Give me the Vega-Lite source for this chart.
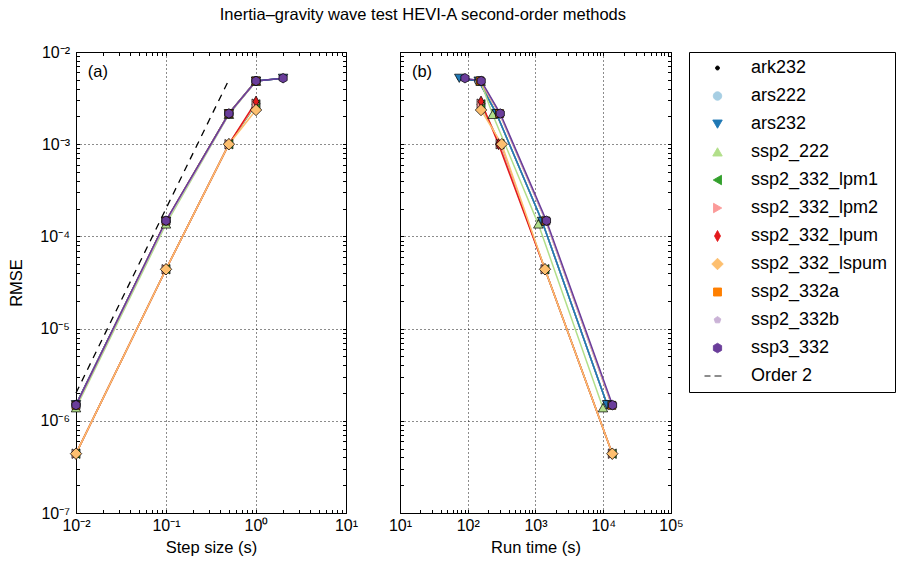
{
  "$schema": "https://vega.github.io/schema/vega-lite/v6.json",
  "padding": {"left": 8, "top": 7, "right": 0, "bottom": 5},
  "title": {"text": "Inertia–gravity wave test HEVI-A second-order methods", "font": "Liberation Sans", "fontSize": 16.5, "fontWeight": "normal", "color": "black", "anchor": "middle", "offset": 20, "dx": -29},
  "datasets": {
    "runs": [
      {"method": "ark232", "dt": 2, "rmse": 0.0052, "runtime": 75},
      {"method": "ark232", "dt": 1, "rmse": 0.00485, "runtime": 145},
      {"method": "ark232", "dt": 0.5, "rmse": 0.00215, "runtime": 265},
      {"method": "ark232", "dt": 0.1, "rmse": 0.000146, "runtime": 1250},
      {"method": "ark232", "dt": 0.01, "rmse": 0.0000015, "runtime": 11400},
      {"method": "ars222", "dt": 1, "rmse": 0.00485, "runtime": 145},
      {"method": "ars222", "dt": 0.5, "rmse": 0.00215, "runtime": 265},
      {"method": "ars222", "dt": 0.1, "rmse": 0.000146, "runtime": 1250},
      {"method": "ars222", "dt": 0.01, "rmse": 0.0000015, "runtime": 11400},
      {"method": "ars232", "dt": 2, "rmse": 0.0052, "runtime": 75},
      {"method": "ars232", "dt": 1, "rmse": 0.00485, "runtime": 145},
      {"method": "ars232", "dt": 0.5, "rmse": 0.00215, "runtime": 265},
      {"method": "ars232", "dt": 0.1, "rmse": 0.000146, "runtime": 1250},
      {"method": "ars232", "dt": 0.01, "rmse": 0.0000015, "runtime": 11400},
      {"method": "ssp2_222", "dt": 1, "rmse": 0.0048, "runtime": 155},
      {"method": "ssp2_222", "dt": 0.5, "rmse": 0.0021, "runtime": 233},
      {"method": "ssp2_222", "dt": 0.1, "rmse": 0.000136, "runtime": 1100},
      {"method": "ssp2_222", "dt": 0.01, "rmse": 0.00000138, "runtime": 9900},
      {"method": "ssp2_332_lpm1", "dt": 1, "rmse": 0.0027, "runtime": 157},
      {"method": "ssp2_332_lpm1", "dt": 0.5, "rmse": 0.001, "runtime": 300},
      {"method": "ssp2_332_lpm1", "dt": 0.1, "rmse": 0.000044, "runtime": 1380},
      {"method": "ssp2_332_lpm1", "dt": 0.01, "rmse": 0.00000044, "runtime": 13600},
      {"method": "ssp2_332_lpm2", "dt": 1, "rmse": 0.00275, "runtime": 157},
      {"method": "ssp2_332_lpm2", "dt": 0.5, "rmse": 0.001, "runtime": 300},
      {"method": "ssp2_332_lpm2", "dt": 0.1, "rmse": 0.000044, "runtime": 1380},
      {"method": "ssp2_332_lpm2", "dt": 0.01, "rmse": 0.00000044, "runtime": 13600},
      {"method": "ssp2_332_lpum", "dt": 1, "rmse": 0.0029, "runtime": 157},
      {"method": "ssp2_332_lpum", "dt": 0.5, "rmse": 0.001, "runtime": 285},
      {"method": "ssp2_332_lpum", "dt": 0.1, "rmse": 0.000044, "runtime": 1380},
      {"method": "ssp2_332_lpum", "dt": 0.01, "rmse": 0.00000044, "runtime": 13600},
      {"method": "ssp2_332_lspum", "dt": 1, "rmse": 0.00235, "runtime": 157},
      {"method": "ssp2_332_lspum", "dt": 0.5, "rmse": 0.001, "runtime": 318},
      {"method": "ssp2_332_lspum", "dt": 0.1, "rmse": 0.000044, "runtime": 1380},
      {"method": "ssp2_332_lspum", "dt": 0.01, "rmse": 0.00000044, "runtime": 13600},
      {"method": "ssp2_332a", "dt": 1, "rmse": 0.00485, "runtime": 152},
      {"method": "ssp2_332a", "dt": 0.5, "rmse": 0.00215, "runtime": 295},
      {"method": "ssp2_332a", "dt": 0.1, "rmse": 0.000147, "runtime": 1420},
      {"method": "ssp2_332a", "dt": 0.01, "rmse": 0.00000147, "runtime": 13400},
      {"method": "ssp2_332b", "dt": 1, "rmse": 0.00485, "runtime": 155},
      {"method": "ssp2_332b", "dt": 0.5, "rmse": 0.00212, "runtime": 298},
      {"method": "ssp2_332b", "dt": 0.1, "rmse": 0.000144, "runtime": 1430},
      {"method": "ssp2_332b", "dt": 0.01, "rmse": 0.00000146, "runtime": 13500},
      {"method": "ssp3_332", "dt": 2, "rmse": 0.0052, "runtime": 91},
      {"method": "ssp3_332", "dt": 1, "rmse": 0.00485, "runtime": 158},
      {"method": "ssp3_332", "dt": 0.5, "rmse": 0.00215, "runtime": 302},
      {"method": "ssp3_332", "dt": 0.1, "rmse": 0.000148, "runtime": 1450},
      {"method": "ssp3_332", "dt": 0.01, "rmse": 0.00000148, "runtime": 13700}
    ],
    "order2": [
      {"dt": 0.01, "rmse": 0.000002},
      {"dt": 0.5, "rmse": 0.005}
    ]
  },
  "config": {
    "font": "Liberation Sans",
    "view": {"stroke": "black", "strokeWidth": 1},
    "axis": {
      "labelFont": "Liberation Sans", "labelFontSize": 16, "labelColor": "black",
      "titleFont": "Liberation Sans", "titleFontSize": 16.5, "titleFontWeight": "normal", "titleColor": "black", "titlePadding": 15,
      "domain": false, "tickColor": "black", "tickWidth": 1, "tickSize": -3.5, "labelPadding": 10,
      "gridColor": "black", "gridDash": [1, 3], "gridWidth": 1,
      "labelFlush": false, "labelOverlap": false, "labelBound": false
    },
    "legend": {"title": null, "orient": "right", "offset": 5, "padding": 7, "rowPadding": 10, "symbolSize": 100, "symbolOffset": 12.5, "labelOffset": 24.5, "labelFontSize": 18, "labelFont": "Liberation Sans", "labelColor": "black", "strokeColor": "black", "cornerRadius": 0, "symbolStrokeColor": "black", "symbolStrokeWidth": 0.9, "symbolOpacity": 1}
  },
  "spacing": 54,
  "bounds": "flush",
  "resolve": {"scale": {"color": "shared", "shape": "shared"}, "legend": {"color": "shared", "shape": "shared"}},
  "hconcat": [
    {
      "width": 270,
      "height": 461,
      "resolve": {"axis": {"x": "independent", "y": "independent"}},
      "layer": [
        {
          "data": {"name": "order2"},
          "mark": {"type": "line", "color": "black", "strokeWidth": 1.3, "strokeDash": [7, 6]},
          "encoding": {
            "x": {"field": "dt", "type": "quantitative",
              "scale": {"type": "log", "domain": [0.01, 10], "nice": false},
              "axis": {"orient": "bottom", "title": "Step size (s)", "grid": true, "labelPadding": 8, "titlePadding": 6,
                "values": [0.01,0.02,0.03,0.04,0.05,0.06,0.07,0.08,0.09,0.1,0.2,0.3,0.4,0.5,0.6,0.7,0.8,0.9,1,2,3,4,5,6,7,8,9,10],
                "labelExpr": "abs(log(datum.value)/LN10 - round(log(datum.value)/LN10)) < 0.001 ? '10' + (round(log(datum.value)/LN10) < 0 ? '⁻' : '') + ['⁰','¹','²','³','⁴','⁵','⁶','⁷','⁸','⁹'][abs(round(log(datum.value)/LN10))] : ''",
                "gridOpacity": {"condition": {"test": "abs(log(datum.value)/LN10 - round(log(datum.value)/LN10)) < 0.001", "value": 0.9}, "value": 0}}},
            "y": {"field": "rmse", "type": "quantitative",
              "scale": {"type": "log", "domain": [1e-7, 0.01], "nice": false},
              "axis": {"orient": "left", "title": "RMSE", "grid": true,
                "values": [1e-7,2e-7,3e-7,4e-7,5e-7,6e-7,7e-7,8e-7,9e-7,1e-6,2e-6,3e-6,4e-6,5e-6,6e-6,7e-6,8e-6,9e-6,1e-5,2e-5,3e-5,4e-5,5e-5,6e-5,7e-5,8e-5,9e-5,0.0001,0.0002,0.0003,0.0004,0.0005,0.0006,0.0007,0.0008,0.0009,0.001,0.002,0.003,0.004,0.005,0.006,0.007,0.008,0.009,0.01],
                "labelExpr": "abs(log(datum.value)/LN10 - round(log(datum.value)/LN10)) < 0.001 ? '10' + (round(log(datum.value)/LN10) < 0 ? '⁻' : '') + ['⁰','¹','²','³','⁴','⁵','⁶','⁷','⁸','⁹'][abs(round(log(datum.value)/LN10))] : ''",
                "gridOpacity": {"condition": {"test": "abs(log(datum.value)/LN10 - round(log(datum.value)/LN10)) < 0.001", "value": 0.9}, "value": 0}}}
          }
        },
        {
          "data": {"name": "runs"},
          "mark": {"type": "line", "strokeWidth": 1.5},
          "encoding": {
            "x": {"field": "dt", "type": "quantitative",
              "axis": {"orient": "top", "title": null, "labels": false, "grid": false,
                "values": [0.01,0.02,0.03,0.04,0.05,0.06,0.07,0.08,0.09,0.1,0.2,0.3,0.4,0.5,0.6,0.7,0.8,0.9,1,2,3,4,5,6,7,8,9,10]}},
            "y": {"field": "rmse", "type": "quantitative",
              "axis": {"orient": "right", "title": null, "labels": false, "grid": false,
                "values": [1e-7,2e-7,3e-7,4e-7,5e-7,6e-7,7e-7,8e-7,9e-7,1e-6,2e-6,3e-6,4e-6,5e-6,6e-6,7e-6,8e-6,9e-6,1e-5,2e-5,3e-5,4e-5,5e-5,6e-5,7e-5,8e-5,9e-5,0.0001,0.0002,0.0003,0.0004,0.0005,0.0006,0.0007,0.0008,0.0009,0.001,0.002,0.003,0.004,0.005,0.006,0.007,0.008,0.009,0.01]}},
            "color": {"field": "method", "type": "nominal",
              "scale": {"domain": ["ark232","ars222","ars232","ssp2_222","ssp2_332_lpm1","ssp2_332_lpm2","ssp2_332_lpum","ssp2_332_lspum","ssp2_332a","ssp2_332b","ssp3_332","Order 2"],
                "range": ["#000000","#a6cee3","#1f78b4","#b2df8a","#33a02c","#fb9a99","#e31a1c","#fdbf6f","#ff7f00","#cab2d6","#6a3d9a","#000000"]}}
          }
        },
        {
          "data": {"name": "runs"},
          "mark": {"type": "point", "filled": true, "stroke": "black", "strokeWidth": 0.7, "size": 100, "opacity": 1},
          "encoding": {
            "x": {"field": "dt", "type": "quantitative", "axis": null},
            "y": {"field": "rmse", "type": "quantitative", "axis": null},
            "color": {"field": "method", "type": "nominal"},
            "shape": {"field": "method", "type": "nominal",
              "scale": {"domain": ["ark232","ars222","ars232","ssp2_222","ssp2_332_lpm1","ssp2_332_lpm2","ssp2_332_lpum","ssp2_332_lspum","ssp2_332a","ssp2_332b","ssp3_332","Order 2"],
                "range": ["M-0.4,0A0.4,0.4 0 1,0 0.4,0A0.4,0.4 0 1,0 -0.4,0Z","M-0.85,0A0.85,0.85 0 1,0 0.85,0A0.85,0.85 0 1,0 -0.85,0Z","M0,0.85L-0.95,-0.8L0.95,-0.8Z","M0,-0.85L0.95,0.8L-0.95,0.8Z","M-0.85,0L0.8,-0.95L0.8,0.95Z","M0.85,0L-0.8,-0.95L-0.8,0.95Z","M0,-1.1L0.6,0L0,1.1L-0.6,0Z","M0,-1.15L1.15,0L0,1.15L-1.15,0Z","M-0.8,-0.8H0.8V0.8H-0.8Z","M0,-0.7L0.666,-0.216L0.411,0.566L-0.411,0.566L-0.666,-0.216Z","M0,-0.95L0.823,-0.475L0.823,0.475L0,0.95L-0.823,0.475L-0.823,-0.475Z","M-2.6,0H-1.4M-0.6,0H0.8"]}}
          }
        },
        {
          "data": {"values": [{"label": "(a)"}]},
          "mark": {"type": "text", "align": "left", "baseline": "alphabetic", "fontSize": 16.5, "font": "Liberation Sans", "color": "black"},
          "encoding": {
            "x": {"datum": 0.0135, "type": "quantitative", "axis": null},
            "y": {"datum": 0.00536, "type": "quantitative", "axis": null},
            "text": {"field": "label"}
          }
        }
      ]
    },
    {
      "width": 271,
      "height": 461,
      "resolve": {"axis": {"x": "independent", "y": "independent"}},
      "data": {"name": "runs"},
      "layer": [
        {
          "mark": {"type": "line", "strokeWidth": 1.5},
          "encoding": {
            "x": {"field": "runtime", "type": "quantitative",
              "scale": {"type": "log", "domain": [10, 100000], "nice": false},
              "axis": {"orient": "bottom", "title": "Run time (s)", "grid": true, "labelPadding": 8, "titlePadding": 6,
                "values": [10,20,30,40,50,60,70,80,90,100,200,300,400,500,600,700,800,900,1000,2000,3000,4000,5000,6000,7000,8000,9000,10000,20000,30000,40000,50000,60000,70000,80000,90000,100000],
                "labelExpr": "abs(log(datum.value)/LN10 - round(log(datum.value)/LN10)) < 0.001 ? '10' + (round(log(datum.value)/LN10) < 0 ? '⁻' : '') + ['⁰','¹','²','³','⁴','⁵','⁶','⁷','⁸','⁹'][abs(round(log(datum.value)/LN10))] : ''",
                "gridOpacity": {"condition": {"test": "abs(log(datum.value)/LN10 - round(log(datum.value)/LN10)) < 0.001", "value": 0.9}, "value": 0}}},
            "y": {"field": "rmse", "type": "quantitative",
              "scale": {"type": "log", "domain": [1e-7, 0.01], "nice": false},
              "axis": {"orient": "left", "title": null, "labels": false, "grid": true,
                "values": [1e-7,2e-7,3e-7,4e-7,5e-7,6e-7,7e-7,8e-7,9e-7,1e-6,2e-6,3e-6,4e-6,5e-6,6e-6,7e-6,8e-6,9e-6,1e-5,2e-5,3e-5,4e-5,5e-5,6e-5,7e-5,8e-5,9e-5,0.0001,0.0002,0.0003,0.0004,0.0005,0.0006,0.0007,0.0008,0.0009,0.001,0.002,0.003,0.004,0.005,0.006,0.007,0.008,0.009,0.01],
                "gridOpacity": {"condition": {"test": "abs(log(datum.value)/LN10 - round(log(datum.value)/LN10)) < 0.001", "value": 0.9}, "value": 0}}},
            "color": {"field": "method", "type": "nominal"}
          }
        },
        {
          "mark": {"type": "point", "filled": true, "stroke": "black", "strokeWidth": 0.7, "size": 100, "opacity": 1},
          "encoding": {
            "x": {"field": "runtime", "type": "quantitative",
              "axis": {"orient": "top", "title": null, "labels": false, "grid": false,
                "values": [10,20,30,40,50,60,70,80,90,100,200,300,400,500,600,700,800,900,1000,2000,3000,4000,5000,6000,7000,8000,9000,10000,20000,30000,40000,50000,60000,70000,80000,90000,100000]}},
            "y": {"field": "rmse", "type": "quantitative",
              "axis": {"orient": "right", "title": null, "labels": false, "grid": false,
                "values": [1e-7,2e-7,3e-7,4e-7,5e-7,6e-7,7e-7,8e-7,9e-7,1e-6,2e-6,3e-6,4e-6,5e-6,6e-6,7e-6,8e-6,9e-6,1e-5,2e-5,3e-5,4e-5,5e-5,6e-5,7e-5,8e-5,9e-5,0.0001,0.0002,0.0003,0.0004,0.0005,0.0006,0.0007,0.0008,0.0009,0.001,0.002,0.003,0.004,0.005,0.006,0.007,0.008,0.009,0.01]}},
            "color": {"field": "method", "type": "nominal"},
            "shape": {"field": "method", "type": "nominal"}
          }
        },
        {
          "data": {"values": [{"label": "(b)"}]},
          "mark": {"type": "text", "align": "left", "baseline": "alphabetic", "fontSize": 16.5, "font": "Liberation Sans", "color": "black"},
          "encoding": {
            "x": {"datum": 15, "type": "quantitative", "axis": null},
            "y": {"datum": 0.00536, "type": "quantitative", "axis": null},
            "text": {"field": "label"}
          }
        }
      ]
    }
  ]
}
